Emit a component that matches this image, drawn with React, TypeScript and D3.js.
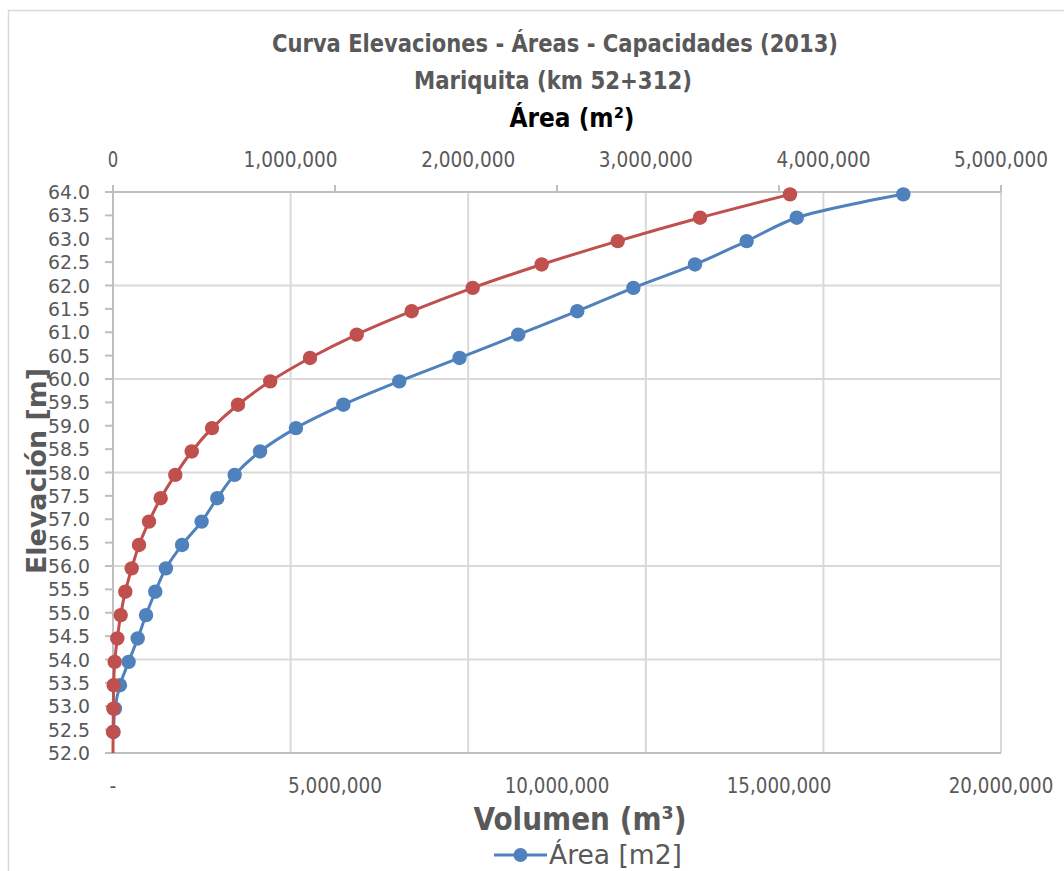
import React from "react";
import * as d3 from "d3";

// ---- data ----
const elevations = [
  52.45, 52.95, 53.45, 53.95, 54.45, 54.95, 55.45, 55.95, 56.45, 56.95, 57.45, 57.95,
  58.45, 58.95, 59.45, 59.95, 60.45, 60.95, 61.45, 61.95, 62.45, 62.95, 63.45, 63.95,
];
const areaM2 = [
  3000, 11000, 39000, 88000, 139000, 186000, 238000, 298000, 389000, 499000, 587000, 685000,
  828000, 1030000, 1297000, 1612000, 1951000, 2282000, 2614000, 2930000, 3277000, 3568000,
  3850000, 4450000,
];
const volumeM3 = [
  2000, 8000, 15000, 38000, 97000, 173000, 277000, 421000, 586000, 811000, 1074000, 1403000,
  1773000, 2230000, 2815000, 3541000, 4437000, 5489000, 6727000, 8101000, 9655000, 11367000,
  13221000, 15248000,
];
// volume series begins below the visible axis
const volumeStartElevation = 51.95;
const volumeStartValue = 0;

const elevationTicks = [
  52.0, 52.5, 53.0, 53.5, 54.0, 54.5, 55.0, 55.5, 56.0, 56.5, 57.0, 57.5, 58.0, 58.5, 59.0,
  59.5, 60.0, 60.5, 61.0, 61.5, 62.0, 62.5, 63.0, 63.5, 64.0,
];
const elevationGrid = [52, 54, 56, 58, 60, 62, 64];
const areaTicks = [0, 1000000, 2000000, 3000000, 4000000, 5000000];
const volumeTicks = [0, 5000000, 10000000, 15000000, 20000000];

const titleLine1 = "Curva Elevaciones - Áreas - Capacidades (2013)";
const titleLine2 = "Mariquita (km 52+312)";
const topAxisTitle = "Área (m²)";
const bottomAxisTitle = "Volumen (m³)";
const yAxisTitle = "Elevación [m]";
const legendLabel = "Área [m2]";

// ---- styles ----
const W = 1064;
const H = 871;
const PL = 113, PR = 1001, PT = 192, PB = 753;
const BLUE = "#4F81BD";
const RED = "#C0504D";
const GRID = "#D9D9D9";
const AXIS = "#BFBFBF";
const TXT = "#595959";
const NARROW = "'Liberation Sans Narrow', 'DejaVu Sans Condensed', 'Liberation Sans', sans-serif";
const DEJAVU = "'DejaVu Sans', sans-serif";
const CHAR_W = 10.45;

export default function App() {
  const y = d3.scaleLinear().domain([52, 64]).range([PB, PT]);
  const xArea = d3.scaleLinear().domain([0, 5000000]).range([PL, PR]);
  const xVol = d3.scaleLinear().domain([0, 20000000]).range([PL, PR]);
  const fmt = d3.format(",");

  const areaPts: [number, number][] = elevations.map((e, i) => [xArea(areaM2[i]), y(e)]);
  const volPts: [number, number][] = [
    [xVol(volumeStartValue), y(volumeStartElevation)],
    ...elevations.map((e, i) => [xVol(volumeM3[i]), y(e)] as [number, number]),
  ];
  const line = d3.line<[number, number]>().x((d) => d[0]).y((d) => d[1]).curve(d3.curveCatmullRom.alpha(0.5));

  const tickLabel = (s: string) => ({ textLength: s.length * CHAR_W, lengthAdjust: "spacingAndGlyphs" as const });

  return (
    <svg width={W} height={H} style={{ position: "absolute", left: 0, top: 0, background: "#fff" }}>
      <defs>
        <clipPath id="plotClip">
          <rect x={PL - 10} y={PT - 10} width={PR - PL + 20} height={PB - PT + 10} />
        </clipPath>
      </defs>
      <rect x={8.5} y={10.5} width={W} height={H} fill="#fff" stroke={GRID} strokeWidth={1.5} />

      {/* titles */}
      <text x={555} y={52} textAnchor="middle" fontFamily={NARROW} fontWeight="bold" fontSize={25} fill={TXT}
        textLength={566} lengthAdjust="spacingAndGlyphs">{titleLine1}</text>
      <text x={553} y={89} textAnchor="middle" fontFamily={NARROW} fontWeight="bold" fontSize={25} fill={TXT}
        textLength={278} lengthAdjust="spacingAndGlyphs">{titleLine2}</text>
      <text x={572} y={127} textAnchor="middle" fontFamily={NARROW} fontWeight="bold" fontSize={26} fill="#000"
        textLength={125} lengthAdjust="spacingAndGlyphs">{topAxisTitle}</text>

      {/* vertical gridlines (area major units) */}
      {areaTicks.filter((t) => t > 0).map((t) => (
        <line key={"vg" + t} x1={xArea(t)} x2={xArea(t)} y1={PT} y2={PB} stroke={GRID} strokeWidth={2} />
      ))}
      {/* horizontal gridlines */}
      {elevationGrid.map((e) => (
        <line key={"hg" + e} x1={PL} x2={PR} y1={y(e)} y2={y(e)} stroke={e === 52 || e === 64 ? AXIS : GRID} strokeWidth={2} />
      ))}
      {/* left axis */}
      <line x1={PL} x2={PL} y1={PT} y2={PB} stroke={AXIS} strokeWidth={2} />
      {elevationTicks.map((e) => (
        <g key={"yt" + e}>
          <line x1={PL - 8} x2={PL} y1={y(e)} y2={y(e)} stroke={AXIS} strokeWidth={2} />
          <text x={90} y={y(e)} dy="0.36em" textAnchor="end" fontFamily={DEJAVU} fontSize={19.5} fill={TXT}
            textLength={42} lengthAdjust="spacingAndGlyphs">
            {e.toFixed(1)}
          </text>
        </g>
      ))}
      {/* top axis ticks */}
      {volumeTicks.map((t) => (
        <line key={"tt" + t} x1={xVol(t)} x2={xVol(t)} y1={PT - 7} y2={PT} stroke={AXIS} strokeWidth={2} />
      ))}
      {areaTicks.map((t) => (
        <text key={"at" + t} x={xArea(t)} y={167} textAnchor="middle" fontFamily={NARROW} fontSize={22}
          fill={TXT} {...tickLabel(fmt(t))}>{fmt(t)}</text>
      ))}
      {volumeTicks.map((t) => {
        const s = t === 0 ? "-" : fmt(t);
        return (
          <text key={"vt" + t} x={xVol(t)} y={793} textAnchor="middle" fontFamily={NARROW} fontSize={21}
            fill={TXT} {...(t === 0 ? {} : tickLabel(s))}>{s}</text>
        );
      })}

      {/* axis titles */}
      <text x={580} y={830} textAnchor="middle" fontFamily={NARROW} fontWeight="bold" fontSize={32} fill={TXT}
        textLength={213} lengthAdjust="spacingAndGlyphs">{bottomAxisTitle}</text>
      <text transform={`translate(46,471) rotate(-90)`} textAnchor="middle" fontFamily={DEJAVU} fontWeight="bold"
        fontSize={26.5} fill={TXT} textLength={206} lengthAdjust="spacingAndGlyphs">{yAxisTitle}</text>

      {/* series */}
      <g clipPath="url(#plotClip)">
        <path d={line(areaPts) || ""} fill="none" stroke={BLUE} strokeWidth={3} />
        {areaPts.map((p, i) => (
          <circle key={"ap" + i} cx={p[0]} cy={p[1]} r={7.2} fill={BLUE} />
        ))}
        <path d={line(volPts) || ""} fill="none" stroke={RED} strokeWidth={3} />
        {volPts.filter((p) => p[1] <= PB).map((p, i) => (
          <circle key={"vp" + i} cx={p[0]} cy={p[1]} r={7.2} fill={RED} />
        ))}
      </g>

      {/* legend */}
      <line x1={494} x2={547} y1={855} y2={855} stroke={BLUE} strokeWidth={3} />
      <circle cx={520.5} cy={855} r={7} fill={BLUE} />
      <text x={549} y={864} fontFamily={NARROW} fontSize={26} fill={TXT} textLength={133}
        lengthAdjust="spacingAndGlyphs">{legendLabel}</text>
    </svg>
  );
}
